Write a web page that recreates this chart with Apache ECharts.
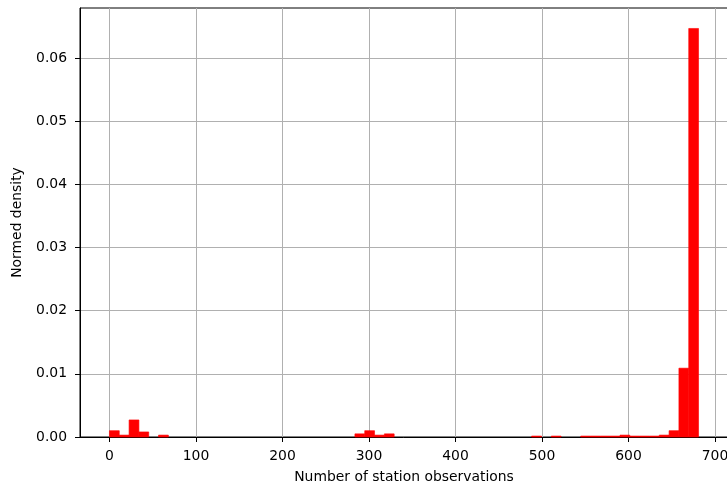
<!DOCTYPE html>
<html>
<head>
<meta charset="utf-8">
<script src="https://cdn.jsdelivr.net/npm/echarts@6/dist/echarts.min.js"></script>
<style>
html,body{margin:0;padding:0;background:#fff;}
#chart{width:727px;height:486px;}
</style>
</head>
<body>
<div id="chart"></div>
<script>
// Histogram: 60 equal-width bins
const binStart = 0;
const binWidth = 11.35;
const densities = [
  0.0010, 0.0003, 0.0027, 0.0008, 0, 0.0003, 0, 0, 0, 0,
  0, 0, 0, 0, 0, 0, 0, 0, 0, 0,
  0, 0, 0, 0, 0, 0.0005, 0.0010, 0.0003, 0.0005, 0,
  0, 0, 0, 0, 0, 0, 0, 0, 0, 0,
  0, 0, 0, 0.00015, 0, 0.00015, 0, 0, 0.00015, 0.00015,
  0.00015, 0.00015, 0.0003, 0.00015, 0.00015, 0.00015, 0.0003, 0.0010, 0.0109, 0.0647
];
const xTicks = [0, 100, 200, 300, 400, 500, 600, 700];
const yTicks = [0, 0.01, 0.02, 0.03, 0.04, 0.05, 0.06];
const xAxisMin = -34.05;
const xAxisMax = 715.05;
const yAxisMax = 0.06794;

const barData = densities.map((d, i) => [binStart + i * binWidth, binStart + (i + 1) * binWidth, d]);

const FONT = 'DejaVu Sans';
const FS = 13.9;

const chart = echarts.init(document.getElementById('chart'), null, {renderer: 'canvas'});
chart.setOption({
  animation: false,
  backgroundColor: '#fff',
  grid: {
    left: 80, right: -1, top: 8, bottom: 49,
    show: true, borderColor: '#000', borderWidth: 1,
    outerBoundsMode: 'none', containLabel: false
  },
  xAxis: {
    type: 'value', min: xAxisMin, max: xAxisMax,
    name: 'Number of station observations', nameLocation: 'middle', nameGap: 33,
    nameTextStyle: {fontFamily: FONT, fontSize: FS, color: '#000'},
    axisLine: {show: true, onZero: false, lineStyle: {color: '#000', width: 1}},
    axisTick: {show: true, inside: false, length: 5, customValues: xTicks, lineStyle: {color: '#000', width: 1}},
    axisLabel: {customValues: xTicks, margin: 12, fontFamily: FONT, fontSize: FS, color: '#000'},
    splitLine: {show: true, lineStyle: {color: '#b0b0b0', width: 1}}
  },
  yAxis: {
    type: 'value', min: 0, max: yAxisMax,
    name: 'Normed density', nameLocation: 'middle', nameGap: 56,
    nameTextStyle: {fontFamily: FONT, fontSize: FS, color: '#000'},
    axisLine: {show: true, onZero: false, lineStyle: {color: '#000', width: 1}},
    axisTick: {show: true, inside: false, length: 5, customValues: yTicks, lineStyle: {color: '#000', width: 1}},
    axisLabel: {customValues: yTicks, margin: 13, fontFamily: FONT, fontSize: FS, color: '#000',
      formatter: v => v.toFixed(2)},
    splitLine: {show: true, lineStyle: {color: '#b0b0b0', width: 1}}
  },
  series: [{
    type: 'custom',
    data: barData,
    encode: {x: [0, 1], y: 2},
    renderItem: function (params, api) {
      const x0 = api.value(0), x1 = api.value(1), h = api.value(2);
      if (!h) return null;
      const p0 = api.coord([x0, h]);
      const p1 = api.coord([x1, 0]);
      return {
        type: 'rect',
        shape: {x: p0[0], y: p0[1], width: p1[0] - p0[0], height: p1[1] - p0[1]},
        style: {fill: '#ff0000', stroke: '#ff0000', lineWidth: 0.6}
      };
    }
  }]
});
</script>
</body>
</html>
